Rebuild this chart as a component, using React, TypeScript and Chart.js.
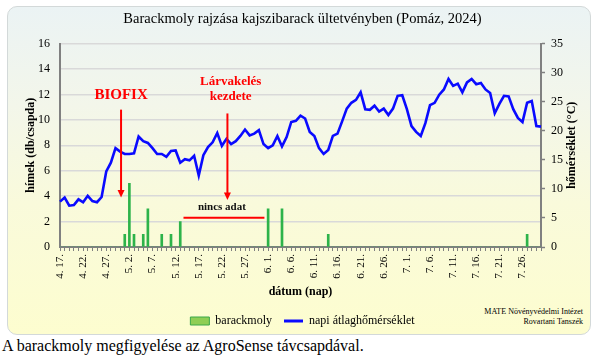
import React, { useEffect, useRef } from 'react';
import { Chart, registerables } from 'chart.js';

Chart.register(...registerables);

const SERIF = "'Liberation Serif', 'Times New Roman', serif";

const TITLE = 'Barackmoly rajzása kajszibarack ültetvényben (Pomáz, 2024)';
const LEFT_TITLE = 'hímek (db/csapda)';
const RIGHT_TITLE = 'hőmérséklet (°C)';
const X_TITLE = 'dátum (nap)';
const SERIES_NAMES = ['barackmoly', 'napi átlaghőmérséklet'];

// one category per day, 4.17 – 7.30
const DATES = [
  '4. 17.', '4. 18.', '4. 19.', '4. 20.', '4. 21.', '4. 22.', '4. 23.', '4. 24.', '4. 25.', '4. 26.', '4. 27.', '4. 28.', '4. 29.', '4. 30.',
  '5. 1.', '5. 2.', '5. 3.', '5. 4.', '5. 5.', '5. 6.', '5. 7.', '5. 8.', '5. 9.', '5. 10.', '5. 11.', '5. 12.', '5. 13.', '5. 14.', '5. 15.', '5. 16.',
  '5. 17.', '5. 18.', '5. 19.', '5. 20.', '5. 21.', '5. 22.', '5. 23.', '5. 24.', '5. 25.', '5. 26.', '5. 27.', '5. 28.', '5. 29.', '5. 30.', '5. 31.',
  '6. 1.', '6. 2.', '6. 3.', '6. 4.', '6. 5.', '6. 6.', '6. 7.', '6. 8.', '6. 9.', '6. 10.', '6. 11.', '6. 12.', '6. 13.', '6. 14.', '6. 15.',
  '6. 16.', '6. 17.', '6. 18.', '6. 19.', '6. 20.', '6. 21.', '6. 22.', '6. 23.', '6. 24.', '6. 25.', '6. 26.', '6. 27.', '6. 28.', '6. 29.', '6. 30.',
  '7. 1.', '7. 2.', '7. 3.', '7. 4.', '7. 5.', '7. 6.', '7. 7.', '7. 8.', '7. 9.', '7. 10.', '7. 11.', '7. 12.', '7. 13.', '7. 14.', '7. 15.',
  '7. 16.', '7. 17.', '7. 18.', '7. 19.', '7. 20.', '7. 21.', '7. 22.', '7. 23.', '7. 24.', '7. 25.', '7. 26.', '7. 27.', '7. 28.', '7. 29.', '7. 30.',
];

// moths per trap per day (left axis)
const MOTH = [
  0, 0, 0, 0, 0, 0, 0, 0, 0, 0,
  0, 0, 0, 0, 1, 5, 1, 0, 1, 3,
  0, 0, 1, 0, 1, 0, 2, 0, 0, 0,
  0, 0, 0, 0, 0, 0, 0, 0, 0, 0,
  0, 0, 0, 0, 0, 3, 0, 0, 3, 0,
  0, 0, 0, 0, 0, 0, 0, 0, 1, 0,
  0, 0, 0, 0, 0, 0, 0, 0, 0, 0,
  0, 0, 0, 0, 0, 0, 0, 0, 0, 0,
  0, 0, 0, 0, 0, 0, 0, 0, 0, 0,
  0, 0, 0, 0, 0, 0, 0, 0, 0, 0,
  0, 1, 0, 0, 0,
];

// daily mean temperature °C (right axis)
const TEMP = [
  7.8, 8.5, 7.1, 7.2, 8.2, 7.7, 8.8, 7.9, 7.7, 8.6,
  13.0, 14.5, 17.0, 16.4, 16.0, 16.0, 16.1, 19.0, 18.2, 17.9,
  17.0, 16.0, 16.0, 15.5, 16.5, 16.6, 14.5, 15.1, 14.9, 15.7,
  12.3, 15.8, 17.2, 18.0, 19.6, 17.4, 18.6, 17.7, 18.2, 19.1,
  20.2, 19.2, 19.5, 20.1, 17.7, 17.0, 17.5, 19.1, 17.3, 18.9,
  21.5, 21.7, 22.6, 22.1, 19.8, 19.1, 17.0, 16.0, 16.7, 19.1,
  19.5, 21.6, 23.8, 24.8, 25.3, 26.6, 23.7, 23.6, 24.3, 23.3,
  23.8, 22.7, 23.8, 26.0, 26.1, 23.7, 20.8, 19.8, 19.1, 21.3,
  24.4, 24.8, 26.2, 27.1, 28.9, 27.7, 28.1, 26.6, 28.3, 28.9,
  28.0, 28.2, 27.1, 26.5, 23.0, 24.6, 26.0, 25.9, 23.7, 22.2,
  21.5, 24.8, 25.1, 20.8, 20.7,
];

const LABEL_EVERY = 5;

// annotations in data coordinates (x = day index, y = left axis)
const ARROWS = [
  { at: 13.2, from: 10.8, to: 3.9 },
  { at: 36.2, from: 10.5, to: 3.7 },
];
const NOTES = [
  { lines: ['BIOFIX'], at: 13.2, y: 11.95, size: 15 },
  { lines: ['Lárvakelés', 'kezdete'], at: 36.9, y: 13.0, size: 13 },
];
const NO_DATA = { text: 'nincs adat', textAt: 35, textY: 3.1, from: 26.7, to: 44.2, y: 2.3 };

const RED = '#ff0000';
const AXIS = '#808080';

const overlay = {
  id: 'overlay',
  afterDatasetsDraw(chart: any) {
    const { ctx } = chart;
    const x = chart.scales.x;
    const y = chart.scales.y;
    ctx.save();
    for (const a of ARROWS) {
      const px = x.getPixelForValue(a.at);
      const y0 = y.getPixelForValue(a.from);
      const y1 = y.getPixelForValue(a.to);
      ctx.strokeStyle = RED;
      ctx.lineWidth = 2;
      ctx.beginPath();
      ctx.moveTo(px, y0);
      ctx.lineTo(px, y1 - 5);
      ctx.stroke();
      ctx.fillStyle = RED;
      ctx.beginPath();
      ctx.moveTo(px - 3.5, y1 - 7.5);
      ctx.lineTo(px + 3.5, y1 - 7.5);
      ctx.lineTo(px, y1);
      ctx.closePath();
      ctx.fill();
    }
    ctx.textAlign = 'center';
    ctx.textBaseline = 'middle';
    for (const n of NOTES) {
      ctx.fillStyle = RED;
      ctx.font = `bold ${n.size}px ${SERIF}`;
      const px = x.getPixelForValue(n.at);
      const py = y.getPixelForValue(n.y);
      n.lines.forEach((t, i) => ctx.fillText(t, px, py + i * n.size * 1.15));
    }
    ctx.strokeStyle = RED;
    ctx.lineWidth = 2;
    ctx.beginPath();
    const ly = y.getPixelForValue(NO_DATA.y);
    ctx.moveTo(x.getPixelForValue(NO_DATA.from), ly);
    ctx.lineTo(x.getPixelForValue(NO_DATA.to), ly);
    ctx.stroke();
    ctx.fillStyle = '#111';
    ctx.font = `bold 11px ${SERIF}`;
    ctx.fillText(NO_DATA.text, x.getPixelForValue(NO_DATA.textAt), y.getPixelForValue(NO_DATA.textY));
    ctx.restore();
  },
  afterDraw(chart: any) {
    const { ctx, chartArea } = chart;
    const r = chart.scales.y1;
    ctx.save();
    ctx.translate(r.left + 31, (chartArea.top + chartArea.bottom) / 2);
    ctx.rotate(-Math.PI / 2);
    ctx.textAlign = 'center';
    ctx.textBaseline = 'middle';
    ctx.fillStyle = '#000';
    ctx.font = `bold 12px ${SERIF}`;
    ctx.fillText(RIGHT_TITLE, 0, 0);
    ctx.restore();
  },
};

export default function App() {
  const ref = useRef<HTMLCanvasElement>(null);

  useEffect(() => {
    const chart = new Chart(ref.current as HTMLCanvasElement, {
      type: 'bar',
      data: {
        labels: DATES,
        datasets: [
          {
            type: 'bar',
            label: SERIES_NAMES[0],
            data: MOTH,
            yAxisID: 'y',
            backgroundColor: '#2db34a',
            borderWidth: 0,
            barThickness: 2,
            order: 1,
          } as any,
          {
            type: 'line',
            label: SERIES_NAMES[1],
            data: TEMP,
            yAxisID: 'y1',
            borderColor: '#0a0aff',
            borderWidth: 2.6,
            pointRadius: 0,
            tension: 0,
            fill: false,
            order: 0,
          } as any,
        ],
      },
      options: {
        responsive: false,
        animation: false,
        layout: { padding: { left: 0, right: 0, top: 0, bottom: 25 } },
        plugins: {
          tooltip: { enabled: false },
          title: {
            display: true,
            text: TITLE,
            color: '#000',
            font: { family: SERIF, size: 14.5, weight: 'normal' },
            padding: { top: 10.3, bottom: 15.8 },
          },
          legend: {
            display: true,
            position: 'bottom',
            labels: {
              color: '#000',
              font: { family: SERIF, size: 12 },
              usePointStyle: true,
              pointStyleWidth: 19,
              boxHeight: 8,
              padding: 12,
              generateLabels: () => [
                {
                  text: SERIES_NAMES[0],
                  fillStyle: '#8fce55',
                  strokeStyle: '#3aa84a',
                  lineWidth: 1,
                  pointStyle: 'rect',
                  datasetIndex: 0,
                  hidden: false,
                },
                {
                  text: SERIES_NAMES[1],
                  fillStyle: '#0a0aff',
                  strokeStyle: '#0a0aff',
                  lineWidth: 3,
                  pointStyle: 'line',
                  datasetIndex: 1,
                  hidden: false,
                },
              ],
            },
          },
        },
        scales: {
          x: {
            type: 'category',
            offset: false,
            afterFit: (s: any) => { s.height = 56; },
            grid: {
              display: true,
              offset: false,
              drawOnChartArea: false,
              drawTicks: true,
              tickLength: 4,
              tickColor: AXIS,
              tickWidth: 1,
            },
            border: { display: true, color: AXIS, width: 2 },
            ticks: {
              autoSkip: false,
              minRotation: 90,
              maxRotation: 90,
              padding: 3,
              color: '#000',
              font: { family: SERIF, size: 11 },
              callback: (_v: any, i: number) => (i % LABEL_EVERY === 0 ? DATES[i] : ''),
            },
            title: {
              display: true,
              text: X_TITLE,
              color: '#000',
              font: { family: SERIF, size: 12, weight: 'bold' },
              padding: { top: 0, bottom: 4 },
            },
          },
          y: {
            position: 'left',
            min: 0,
            max: 16,
            afterFit: (s: any) => { s.width = 60; },
            ticks: {
              stepSize: 2,
              padding: 10,
              color: '#000',
              font: { family: SERIF, size: 12 },
            },
            grid: {
              color: '#d9d9d9',
              lineWidth: 1.4,
              drawTicks: false,
            },
            border: { display: true, color: AXIS, width: 2 },
            title: {
              display: true,
              text: LEFT_TITLE,
              color: '#000',
              font: { family: SERIF, size: 12, weight: 'bold' },
              padding: { top: 24, bottom: 0 },
            },
          },
          y1: {
            position: 'right',
            min: 0,
            max: 35,
            afterFit: (s: any) => { s.width = 64; },
            ticks: {
              stepSize: 5,
              padding: 6,
              color: '#000',
              font: { family: SERIF, size: 12 },
            },
            grid: {
              drawOnChartArea: false,
              drawTicks: true,
              tickLength: 4,
              tickColor: AXIS,
              tickWidth: 1.5,
            },
            border: { display: true, color: AXIS, width: 2 },
          },
        },
      } as any,
      plugins: [overlay],
    });
    return () => chart.destroy();
  }, []);

  return (
    <div
      style={{
        position: 'fixed',
        left: 0,
        top: 0,
        width: 605,
        height: 362,
        background: '#ffffff',
        overflow: 'hidden',
      }}
    >
      <div
        style={{
          position: 'absolute',
          left: 7,
          top: 6,
          width: 584,
          height: 329,
          boxSizing: 'border-box',
          border: '1px solid #d3d9d9',
          borderRadius: 10,
          background:
            'linear-gradient(180deg, #ebf3f4 0%, #f3f6ea 30%, #f9fadb 60%, #fdfdcf 100%)',
        }}
      />
      <div
        style={{
          position: 'absolute',
          right: 22,
          top: 307,
          fontFamily: SERIF,
          fontSize: 8,
          lineHeight: '10px',
          textAlign: 'right',
          color: '#000',
          whiteSpace: 'nowrap',
        }}
      >
        MATE Növényvédelmi Intézet
        <br />
        Rovartani Tanszék
      </div>
      <div
        style={{
          position: 'absolute',
          left: 2,
          top: 336,
          fontFamily: SERIF,
          fontSize: 16,
          lineHeight: '19px',
          color: '#000',
          whiteSpace: 'nowrap',
        }}
      >
        A barackmoly megfigyelése az AgroSense távcsapdával.
      </div>
      <canvas
        ref={ref}
        width={605}
        height={362}
        style={{ position: 'absolute', left: 0, top: 0, width: 605, height: 362 }}
      />
    </div>
  );
}
